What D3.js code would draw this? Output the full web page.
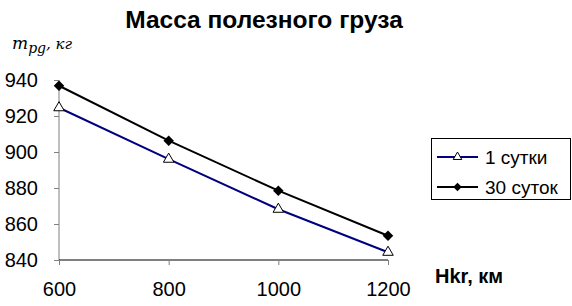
<!DOCTYPE html>
<html><head><meta charset="utf-8">
<script src="https://cdn.jsdelivr.net/npm/d3@7"></script>
<style>body{margin:0;background:#fff}svg{display:block}</style>
</head><body>
<script>
const heights = [600, 800, 1000, 1200];
const series1Day = [924.6, 896, 868.2, 844.3];
const series30Days = [936.8, 906.3, 878.5, 853.5];
const yTicks = [840, 860, 880, 900, 920, 940];
const xTicks = [600, 800, 1000, 1200];
const seriesNames = ["1 сутки", "30 суток"];

const W = 572, H = 306;
const svg = d3.select("body").append("svg").attr("width", W).attr("height", H);
const font = "'Liberation Sans', Arial, sans-serif";

const x = d3.scaleLinear().domain([600, 1200]).range([59, 388]);
const y = d3.scaleLinear().domain([840, 940]).range([260, 80]);

// axes
const yAxis = svg.append("g").attr("transform", "translate(59,0)")
  .call(d3.axisLeft(y).tickValues(yTicks).tickSize(5).tickPadding(16).tickFormat(d3.format("d")));
yAxis.select(".domain").attr("stroke", "#808080").attr("d", "M0,80V260");
yAxis.selectAll(".tick line").attr("stroke", "#808080");
yAxis.selectAll("text").attr("font-family", font).attr("font-size", 20).attr("fill", "#000");

const xAxis = svg.append("g").attr("transform", "translate(0,260)")
  .call(d3.axisBottom(x).tickValues(xTicks).tickSize(5).tickPadding(17).tickFormat(d3.format("d")));
xAxis.select(".domain").attr("stroke", "#000").attr("d", "M59,0H388");
xAxis.selectAll(".tick line").attr("stroke", "#808080");
xAxis.selectAll("text").attr("font-family", font).attr("font-size", 20).attr("fill", "#000");

const line = d3.line().x((d, i) => x(heights[i])).y(d => y(d));

svg.append("path").datum(series1Day).attr("d", line).attr("fill", "none").attr("stroke", "#000080").attr("stroke-width", 2);
svg.append("path").datum(series30Days).attr("d", line).attr("fill", "none").attr("stroke", "#000").attr("stroke-width", 2);

const tri = d3.symbol().type(d3.symbolTriangle).size(48);
const dia = d3.symbol().type(d3.symbolSquare).size(55);

svg.selectAll(".m1").data(series1Day).join("path")
  .attr("transform", (d, i) => `translate(${x(heights[i])},${y(d)})`)
  .attr("d", tri).attr("fill", "#fff").attr("stroke", "#000").attr("stroke-width", 1);
svg.selectAll(".m2").data(series30Days).join("path")
  .attr("transform", (d, i) => `translate(${x(heights[i])},${y(d)}) rotate(45)`)
  .attr("d", dia).attr("fill", "#000");

// title
svg.append("text").attr("x", 264).attr("y", 28).attr("text-anchor", "middle")
  .attr("font-family", font).attr("font-weight", "bold").attr("font-size", 24.5).text("Масса полезного груза");

// y label
const yl = svg.append("text").attr("x", 12).attr("y", 49)
  .attr("font-family", "'DejaVu Serif', 'Liberation Serif', serif").attr("font-style", "italic").attr("font-size", 17);
yl.append("tspan").text("m");
yl.append("tspan").attr("dy", 4).attr("font-size", 14).text("pg");
yl.append("tspan").attr("dy", -4).attr("font-size", 15).text(", кг");

// x label
svg.append("text").attr("x", 435).attr("y", 283)
  .attr("font-family", font).attr("font-weight", "bold").attr("font-size", 20).text("Hkr, км");

// legend
const lg = svg.append("g");
lg.append("rect").attr("x", 431.5).attr("y", 138.5).attr("width", 139).attr("height", 61)
  .attr("fill", "#fff").attr("stroke", "#000");
const rows = [
  {name: seriesNames[0], color: "#000080", sym: d3.symbol().type(d3.symbolTriangle).size(32), fill: "#fff", yy: 157, rot: 0},
  {name: seriesNames[1], color: "#000", sym: d3.symbol().type(d3.symbolSquare).size(36), fill: "#000", yy: 187, rot: 45}
];
rows.forEach(r => {
  lg.append("line").attr("x1", 437).attr("x2", 478).attr("y1", r.yy).attr("y2", r.yy)
    .attr("stroke", r.color).attr("stroke-width", 2);
  lg.append("path").attr("transform", `translate(457.5,${r.yy}) rotate(${r.rot})`).attr("d", r.sym)
    .attr("fill", r.fill).attr("stroke", r.fill === "#fff" ? "#000" : "none");
  lg.append("text").attr("x", 485).attr("y", r.yy + 6.5)
    .attr("font-family", font).attr("font-size", 19).text(r.name);
});
</script>
</body></html>
